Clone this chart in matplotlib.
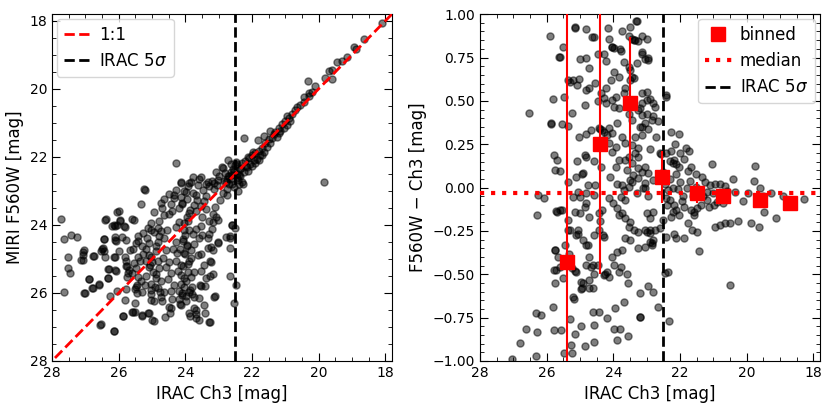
#!/usr/bin/env python3
"""
MIRI F560W vs IRAC Ch3 comparison: 1:1 plot and colour offset with binned medians.
"""
import numpy as np
import matplotlib
matplotlib.use('Agg')
import matplotlib.pyplot as plt
from matplotlib.ticker import MultipleLocator, AutoMinorLocator, StrMethodFormatter

# ---- left panel: (IRAC Ch3, MIRI F560W) pairs ----
left_faint = [
    (27.72, 23.83), (27.65, 24.42), (27.42, 24.29), (27.25, 24.36), (27.52, 24.93),
    (27.52, 25.27), (27.47, 25.41), (27.65, 25.97), (27.12, 25.02), (27.07, 24.80),
    (27.06, 24.88), (27.04, 26.00), (26.89, 25.59), (26.77, 24.91), (26.79, 25.85),
    (26.59, 25.78), (26.52, 24.78), (26.47, 24.68), (26.45, 24.42), (26.39, 23.82),
    (26.32, 25.30), (26.32, 25.56), (26.27, 26.08), (26.55, 26.93), (26.15, 27.13),
    (26.19, 24.03), (26.12, 24.03), (26.05, 23.62), (26.12, 24.34), (26.07, 24.46),
    (26.00, 24.78), (26.12, 24.93), (26.07, 25.34), (26.04, 25.95), (25.97, 23.87),
    (25.87, 26.68), (25.79, 24.44), (25.82, 24.05), (25.82, 26.20), (25.77, 25.20),
    (25.72, 25.41), (25.75, 25.54), (25.79, 25.88), (25.59, 23.83), (25.57, 26.56),
    (25.52, 26.29), (25.52, 26.56), (25.57, 24.70), (25.47, 24.52), (25.47, 25.27),
    (25.45, 25.78), (25.52, 25.88), (25.45, 26.00), (25.42, 24.95), (25.32, 23.39),
    (25.29, 26.66), (25.22, 22.96), (25.12, 26.58), (24.95, 26.83), (24.62, 26.70),
    (24.47, 26.58), (24.42, 26.44), (24.17, 26.31), (24.27, 22.18), (24.12, 22.76),
    (23.89, 22.76), (23.87, 26.68), (23.67, 26.73), (23.67, 26.49), (23.75, 26.44),
    (23.40, 26.58), (23.25, 26.86), (23.12, 26.08), (27.05, 24.75), (27.08, 25.02),
    (26.75, 24.90), (26.90, 25.58), (27.02, 26.01), (26.78, 25.85), (26.60, 25.75),
    (26.50, 24.71), (26.45, 24.77), (26.40, 23.85), (26.45, 24.41), (26.40, 24.94),
    (26.30, 25.29), (26.32, 25.55), (26.12, 25.31), (26.15, 24.94), (26.10, 24.43),
    (26.15, 23.99), (26.05, 23.99), (25.95, 23.85), (26.00, 23.60), (25.90, 24.34),
    (25.85, 24.04), (25.80, 24.94), (25.78, 25.07), (25.75, 25.21), (25.70, 25.31),
    (25.60, 25.41), (25.65, 24.73), (25.55, 23.85), (25.60, 26.56), (25.30, 26.68),
    (25.10, 26.58), (25.88, 26.68), (26.52, 26.92), (26.15, 27.11), (25.25, 22.95),
]
left_core = [
    (25.41, 24.33), (25.43, 24.47), (25.31, 24.62), (25.27, 24.86), (25.17, 24.71),
    (25.19, 25.07), (25.06, 25.18), (24.97, 25.37), (24.99, 25.08), (25.08, 24.88),
    (24.87, 24.78), (24.83, 24.49), (24.79, 24.31), (25.04, 24.15), (25.13, 24.08),
    (25.26, 24.23), (25.16, 24.39), (25.37, 25.05), (25.53, 25.11), (25.41, 25.52),
    (25.33, 25.66), (25.22, 25.77), (25.48, 25.81), (25.31, 25.97), (25.18, 25.51),
    (25.02, 25.74), (24.91, 25.82), (24.88, 25.57), (24.77, 25.97), (25.04, 26.03),
    (22.86, 22.31), (22.63, 22.22), (22.48, 22.14), (22.33, 22.31), (22.19, 22.26),
    (22.13, 22.41), (22.44, 22.51), (22.58, 22.35), (22.64, 22.66), (22.73, 22.55),
    (22.99, 22.57), (23.08, 22.45), (23.19, 22.71), (23.04, 22.81), (22.78, 22.74),
    (22.69, 22.80), (22.43, 22.69), (22.28, 22.79), (22.41, 23.01), (22.53, 22.89),
    (22.74, 22.94), (22.88, 23.06), (23.13, 22.95), (23.29, 22.84), (23.38, 22.79),
    (23.59, 22.66), (23.63, 22.81), (23.84, 22.73), (23.93, 22.86), (24.14, 22.74),
    (24.03, 23.01), (24.29, 22.98), (24.33, 23.12), (24.48, 23.08), (24.64, 23.25),
    (24.72, 23.34), (24.69, 23.51), (24.43, 23.39), (24.34, 23.22), (24.13, 23.19),
    (23.99, 23.03), (23.78, 23.06), (23.69, 23.11), (23.48, 22.98), (23.39, 23.15),
    (23.43, 23.29), (23.64, 23.27), (23.73, 23.41), (23.94, 23.23), (24.09, 23.39),
    (24.18, 23.51), (24.39, 23.58), (24.48, 23.69), (24.63, 23.72), (24.78, 23.89),
    (24.94, 23.61), (25.03, 23.93), (24.83, 24.08), (24.74, 24.18), (24.93, 24.21),
    (25.09, 24.52), (24.89, 24.62), (24.63, 24.37), (24.54, 24.16), (24.28, 24.07),
    (24.19, 23.91), (23.93, 23.88), (23.89, 23.66), (23.68, 23.58), (23.53, 23.43),
    (23.39, 23.52), (23.18, 23.68), (23.09, 23.77), (23.28, 23.89), (23.49, 23.76),
    (23.53, 24.03), (23.69, 24.11), (23.78, 24.28), (24.04, 24.16), (24.08, 24.41),
    (24.29, 24.49), (24.38, 24.71), (24.59, 24.74), (24.68, 24.96), (24.83, 25.06),
    (25.04, 24.93), (25.09, 25.24), (24.88, 25.44), (24.79, 25.27), (24.58, 25.24),
    (24.49, 25.08), (24.28, 25.06), (24.24, 24.83), (24.03, 24.81), (23.94, 24.59),
    (23.73, 24.57), (23.58, 24.39), (23.49, 24.29), (23.28, 24.27), (23.19, 24.11),
    (23.03, 24.49), (23.24, 24.66), (23.33, 24.69), (23.54, 24.86), (23.63, 24.88),
    (23.84, 24.98), (23.93, 25.15), (24.14, 25.17), (24.23, 25.34), (24.44, 25.41),
    (24.53, 25.59), (24.74, 25.66), (24.83, 25.84), (25.04, 25.91), (25.03, 26.22),
    (24.94, 26.24), (24.73, 26.13), (24.64, 25.96), (24.43, 25.93), (24.34, 25.76),
    (24.13, 25.74), (24.04, 25.57), (23.83, 25.53), (23.74, 25.37), (23.53, 25.34),
    (23.44, 25.17), (23.23, 25.09), (23.18, 25.44), (23.39, 25.57), (23.53, 25.79),
    (23.79, 25.81), (23.88, 25.97), (24.09, 26.01), (24.18, 26.17), (24.39, 26.19),
    (24.48, 26.41), (24.69, 26.25), (24.13, 26.36), (23.99, 26.25), (23.73, 26.12),
    (23.59, 26.16), (23.13, 26.12), (23.44, 26.35), (23.68, 26.63), (23.89, 26.59),
    (23.58, 26.79), (23.29, 26.84), (24.99, 26.79),
    (23.95, 24.62), (24.02, 24.85), (23.88, 25.05), (24.07, 25.22), (23.92, 25.38),
    (24.12, 25.48), (23.97, 25.66), (24.04, 25.82), (23.86, 25.92), (24.10, 26.05),
    (23.99, 26.08), (24.16, 24.70), (23.82, 24.75), (24.00, 24.30), (23.90, 24.15),
    (24.05, 23.95), (23.85, 23.55), (24.10, 23.35), (23.95, 23.78), (24.18, 25.95),
    (23.80, 26.02), (24.08, 24.48),
    (22.61, 23.99), (22.51, 24.09), (22.66, 24.33), (22.60, 24.00), (22.65, 24.39),
    (22.67, 24.68), (22.49, 25.76), (22.54, 26.29), (22.67, 25.51), (22.77, 24.36),
    (23.02, 23.85), (23.17, 23.90), (22.75, 23.12), (22.97, 23.27), (23.12, 23.46),
    (23.27, 25.07), (23.27, 25.51), (23.42, 25.80), (23.57, 25.76), (23.02, 24.54),
    (23.17, 24.73), (23.32, 24.39), (23.77, 22.60), (23.52, 22.60), (23.32, 22.73),
    (23.15, 22.76), (23.02, 22.68), (22.89, 22.29), (22.72, 22.10), (22.62, 22.44),
]
left_bright = [
    (22.45, 22.20), (22.35, 22.35), (22.30, 22.18), (22.20, 22.12), (22.15, 22.30),
    (22.10, 22.02), (22.05, 22.20), (22.00, 21.95), (21.95, 22.10), (21.90, 21.88),
    (21.85, 22.05), (21.80, 21.83), (21.75, 21.95), (21.70, 21.73), (21.65, 21.85),
    (21.60, 21.58), (21.55, 21.70), (21.50, 21.48), (21.45, 21.60), (21.40, 21.45),
    (21.35, 21.33), (21.30, 21.28), (21.25, 21.40), (21.20, 21.15), (21.15, 21.25),
    (21.10, 21.03), (21.05, 21.15), (21.00, 20.93), (20.95, 21.05), (20.90, 20.85),
    (20.85, 20.95), (20.80, 20.73), (20.70, 20.63), (20.65, 20.53), (20.55, 20.48),
    (20.45, 20.38), (20.30, 20.20), (20.20, 20.10), (20.45, 20.23), (20.30, 20.13),
    (20.33, 19.77), (20.10, 19.90), (19.80, 19.68), (19.70, 19.48), (19.60, 19.45),
    (19.60, 19.72), (19.45, 19.22), (19.30, 19.17), (19.15, 19.07), (18.95, 18.78),
    (18.88, 18.83), (18.65, 18.53), (18.10, 18.05), (19.83, 22.73), (22.23, 21.45),
    (21.82, 21.49), (21.64, 21.37), (22.55, 22.40), (22.60, 22.52), (22.70, 22.55),
    (22.75, 22.65), (22.80, 22.48), (22.85, 22.70), (22.40, 22.52), (22.45, 22.60),
    (22.50, 22.25), (22.35, 22.55), (22.25, 22.45), (22.60, 22.80), (22.40, 22.80),
    (22.30, 22.75), (22.00, 22.28), (21.90, 22.18), (21.80, 22.08), (21.70, 21.95),
    (21.98, 21.85), (22.12, 22.00), (21.45, 21.25), (21.20, 21.30), (20.95, 20.80),
]

# ---- right panel: (IRAC Ch3, F560W - Ch3) pairs ----
right_faint = [
    (26.53, 0.43), (25.89, 0.875), (25.60, 0.754), (25.52, 0.81), (25.81, 0.51),
    (25.48, 0.52), (25.87, 0.366), (25.55, 0.366), (25.35, 0.355), (25.77, 0.19),
    (25.60, 0.095), (25.37, 0.62), (25.30, 0.61), (25.20, 0.62), (25.10, 0.59),
    (25.04, 0.625), (25.15, 0.927), (24.81, 0.914), (25.00, 0.74), (24.82, 0.745),
    (24.73, 0.687), (24.64, 0.87), (24.57, 0.866), (24.81, 0.562), (24.74, 0.572),
    (24.86, 0.475), (25.03, 0.29), (24.83, 0.31), (24.66, 0.33), (25.23, 0.43),
    (25.08, 0.155), (25.13, 0.062), (24.93, 0.08), (24.86, 0.187), (24.83, 0.178),
    (24.57, 0.153), (24.54, 0.604), (24.90, 0.085), (25.16, 0.923), (25.63, 0.754),
    (25.86, 0.37), (26.26, -0.043), (26.08, -0.059), (26.29, -0.158), (25.73, -0.135),
    (25.53, -0.13), (25.16, -0.143), (25.37, -0.245), (25.76, -0.36), (25.73, -0.477),
    (25.76, -0.55), (25.50, -0.52), (25.14, -0.48), (25.19, -0.64), (24.96, -0.543),
    (24.94, -0.578), (24.72, -0.533), (24.62, -0.578), (24.67, -0.456), (24.62, -0.447),
    (25.82, -0.687), (26.33, -0.725), (26.16, -0.735), (26.61, -0.816), (26.29, -0.83),
    (26.80, -0.898), (25.79, -0.82), (25.57, -0.82), (25.30, -0.76), (25.16, -0.845),
    (24.96, -0.80), (24.86, -0.913), (25.27, -0.91), (25.47, -0.956), (25.23, -0.956),
    (26.31, -0.97), (27.04, -0.99), (24.62, -0.72), (24.57, -0.79), (24.57, -0.89),
    (25.06, -0.27), (24.76, -0.33), (24.57, -0.043), (24.54, 0.014), (24.81, -0.09),
    (24.72, -0.168), (24.86, -0.11), (25.01, -0.149), (25.06, -0.245), (25.11, -0.274),
    (25.30, -0.245), (25.35, -0.187), (25.45, -0.331), (25.65, -0.399), (25.75, -0.36),
    (25.77, -0.475), (25.60, -0.456), (25.11, -0.485), (25.25, -0.466), (25.32, -0.383),
    (25.35, 0.034), (25.21, -0.053), (25.06, -0.024), (25.01, -0.053), (24.76, 0.014),
    (24.81, -0.034), (25.75, 0.101), (25.70, 0.159), (25.60, -0.13), (25.70, -0.139),
    (24.91, -0.303), (24.81, -0.331), (24.91, -0.55), (24.96, -0.585), (24.72, -0.581),
    (25.21, -0.629), (24.81, -0.447), (24.72, -0.399), (24.57, -0.499), (24.57, -0.274),
]
right_mid = [
    (24.44, -0.716), (23.98, -0.817), (23.90, -0.879), (23.80, -0.817), (23.56, -0.854),
    (24.20, -0.75), (23.96, -0.696), (23.69, -0.658), (23.20, -0.748), (24.39, -0.19),
    (24.42, -0.149), (24.34, -0.13), (24.13, -0.062), (24.01, -0.09), (23.78, -0.053),
    (23.69, -0.014), (23.54, 0.005), (23.44, 0.034), (23.64, -0.072), (23.88, -0.12),
    (23.83, -0.158), (23.74, -0.149), (23.64, -0.178), (23.49, -0.197), (23.54, -0.226),
    (23.39, -0.245), (23.25, -0.255), (23.05, -0.245), (22.90, -0.245), (22.90, -0.264),
    (22.80, -0.303), (22.85, -0.322), (23.05, -0.341), (23.25, -0.351), (23.49, -0.303),
    (23.64, -0.293), (23.74, -0.36), (23.88, -0.37), (24.03, -0.399), (23.98, -0.447),
    (23.83, -0.485), (23.59, -0.499), (23.56, -0.552), (23.78, -0.456), (24.18, -0.485),
    (24.27, -0.504), (24.13, -0.514), (24.32, -0.274), (24.27, -0.283), (24.42, -0.245),
    (24.47, -0.447), (24.25, -0.50), (24.23, 0.485), (24.03, 0.504), (23.93, 0.524),
    (23.83, 0.456), (23.98, 0.466), (23.88, 0.37), (24.13, 0.341), (24.03, 0.312),
    (24.18, 0.303), (24.27, 0.322), (24.42, 0.341), (24.32, 0.274), (24.42, 0.235),
    (24.13, 0.255), (23.93, 0.235), (24.03, 0.207), (23.83, 0.158), (23.93, 0.12),
    (23.64, 0.158), (23.54, 0.178), (23.44, 0.139), (23.34, 0.197), (23.25, 0.178),
    (23.05, 0.12), (23.15, 0.091), (23.25, 0.11), (22.95, 0.082), (23.15, 0.303),
    (23.20, 0.351), (23.05, 0.37), (22.85, 0.389), (23.00, 0.427), (23.15, 0.418),
    (23.20, 0.456), (23.54, 0.427), (23.44, 0.389), (23.74, 0.293), (23.64, 0.255),
    (23.44, 0.245), (23.34, 0.293), (23.83, 0.639), (23.98, 0.668), (24.08, 0.62),
    (23.64, 0.572), (23.49, 0.62), (23.44, 0.639), (23.39, 0.629), (23.69, 0.543),
    (23.15, 0.543), (23.00, 0.504), (22.80, 0.485), (22.75, 0.466), (23.98, 0.802),
    (24.03, 0.812), (23.78, 0.789), (23.69, 0.725), (23.54, 0.696), (23.49, 0.677),
    (23.29, 0.716), (23.05, 0.744), (22.95, 0.735), (23.15, 0.773), (23.34, 0.85),
    (23.44, 0.854), (24.16, 0.92), (24.13, 0.856), (24.03, 0.81), (23.74, 0.904),
    (23.49, 0.927), (23.31, 0.958), (23.54, 0.875), (23.39, 0.85), (23.25, 0.846),
    (23.81, 0.798), (24.29, 0.773), (24.23, 0.731), (24.45, 0.773), (24.37, 0.543),
    (24.27, 0.514), (24.22, 0.572), (24.47, 0.50), (24.39, 0.335), (24.33, 0.331),
    (24.37, 0.12), (23.73, 0.014), (23.49, 0.043), (23.25, 0.053), (23.05, 0.024),
    (22.80, 0.043), (23.60, 0.10), (23.40, 0.07), (23.10, 0.00), (23.30, -0.03),
    (22.95, -0.05), (23.90, 0.02), (24.10, 0.06),
]
right_bright = [
    (22.51, 0.091), (22.22, 0.139), (22.17, 0.158), (22.41, 0.197), (22.61, 0.197),
    (23.00, 0.55), (23.15, 0.49), (22.90, 0.51), (22.41, 0.52), (22.43, 0.535),
    (23.25, 0.45), (22.66, 0.385), (22.80, 0.415), (23.15, 0.347), (22.95, 0.337),
    (22.26, 0.318), (22.02, 0.308), (22.71, 0.29), (23.25, 0.23), (22.90, 0.222),
    (22.56, 0.193), (21.82, 0.23), (21.72, 0.212), (21.87, 0.164), (22.26, 0.212),
    (22.31, 0.155), (22.12, 0.135), (22.02, 0.116), (21.77, 0.097), (21.68, 0.116),
    (21.04, 0.135), (22.12, 0.078), (21.53, 0.078), (21.33, 0.059), (21.24, 0.03),
    (21.09, 0.016), (20.94, 0.02), (20.79, 0.02), (20.65, 0.01), (20.40, 0.05),
    (19.76, 0.126), (19.78, 0.04), (23.15, 0.875), (23.00, 0.856), (23.15, 0.78),
    (22.95, 0.75), (23.29, 0.96), (23.05, -0.005), (22.36, -0.015), (22.07, -0.009),
    (21.53, 0.005), (21.19, -0.024), (20.35, -0.024), (19.96, -0.034), (19.27, -0.034),
    (18.29, -0.066), (22.41, -0.063), (22.31, -0.072), (22.17, -0.10), (22.12, -0.13),
    (22.22, -0.14), (22.26, -0.168), (22.02, -0.158), (21.87, -0.11), (21.68, -0.13),
    (21.58, -0.14), (21.48, -0.12), (21.58, -0.158), (21.38, -0.10), (21.19, -0.072),
    (21.14, -0.11), (20.99, -0.10), (20.89, -0.082), (20.70, -0.09), (20.65, -0.063),
    (20.94, -0.226), (20.79, -0.216), (20.65, -0.207), (20.50, -0.207), (20.26, -0.193),
    (19.86, -0.207), (19.62, -0.23), (19.47, -0.14), (19.13, -0.178), (18.78, -0.105),
    (21.77, -0.207), (21.63, -0.245), (21.48, -0.255), (21.43, -0.364), (21.87, -0.29),
    (22.12, -0.293), (22.17, -0.27), (22.41, -0.283), (22.46, -0.495), (22.36, -0.489),
    (20.50, -0.562), (22.95, -0.57), (22.80, -0.60), (23.20, -0.61), (22.66, -0.687),
    (23.20, -0.745), (22.34, -0.767), (23.00, -0.255), (22.90, -0.312), (22.85, -0.33),
    (22.75, -0.245), (22.61, -0.235), (22.90, -0.178), (23.00, -0.149), (22.80, -0.14),
    (22.51, -0.187), (22.45, 0.02), (22.30, 0.05), (22.20, 0.00), (22.00, 0.03),
    (21.90, -0.05), (21.80, 0.00), (22.40, -0.10), (21.95, -0.08), (21.60, -0.05),
    (21.40, -0.02), (21.30, -0.05), (21.00, -0.03), (20.80, -0.05), (20.60, -0.02),
    (20.10, -0.08), (19.60, 0.00), (19.50, -0.05), (18.90, -0.05), (19.60, -0.07),
    (21.70, 0.04), (22.15, 0.25), (22.00, 0.20),
]

# binned medians with error bars (lower / upper extent)
bin_x = [25.4, 24.4, 23.5, 22.55, 21.5, 20.7, 19.6, 18.7]
bin_y = [-0.43, 0.25, 0.49, 0.06, -0.03, -0.05, -0.07, -0.09]
bin_err_lo = [0.70, 0.75, 0.38, 0.15, 0.06, 0.02, 0.02, 0.02]
bin_err_hi = [1.60, 0.90, 0.38, 0.15, 0.06, 0.02, 0.02, 0.02]

median_offset = -0.03
irac_5sigma = 22.5
mag_lim = (28, 17.8)


def style_axes(ax):
    ax.tick_params(which='both', direction='in', top=True, right=True, labelsize=10)
    ax.tick_params(which='major', length=6)
    ax.tick_params(which='minor', length=3)
    ax.xaxis.set_minor_locator(AutoMinorLocator())
    ax.yaxis.set_minor_locator(AutoMinorLocator())


def main():
    lx, ly = np.array(left_faint + left_core + left_bright).T
    rx, ry = np.array(right_faint + right_mid + right_bright).T

    fig = plt.figure(figsize=(8.31, 4.09), dpi=100)
    ax1 = fig.add_axes([0.0626, 0.1174, 0.409, 0.848])
    ax2 = fig.add_axes([0.5776, 0.1174, 0.409, 0.848])

    # left: 1:1 comparison
    ax1.scatter(lx, ly, s=26, c='k', alpha=0.5, zorder=2)
    ax1.axline((mag_lim[0], mag_lim[0]), slope=1, color='red', ls='--', lw=2, label='1:1', zorder=3)
    ax1.axvline(irac_5sigma, color='k', ls='--', lw=2, label=r'IRAC 5$\sigma$', zorder=3)
    ax1.set_xlim(*mag_lim)
    ax1.set_ylim(*mag_lim)
    ax1.xaxis.set_major_locator(MultipleLocator(2))
    ax1.yaxis.set_major_locator(MultipleLocator(2))
    ax1.set_xlabel('IRAC Ch3 [mag]', fontsize=12)
    ax1.set_ylabel('MIRI F560W [mag]', fontsize=12)
    style_axes(ax1)
    ax1.legend(loc='upper left', fontsize=12, handlelength=1.6,
               borderaxespad=0.3, handletextpad=0.5)

    # right: colour offset
    ax2.scatter(rx, ry, s=26, c='k', alpha=0.5, zorder=2)
    ax2.errorbar(bin_x, bin_y, yerr=[bin_err_lo, bin_err_hi], fmt='none',
                 ecolor='red', elinewidth=1.5, capsize=0, zorder=4)
    ax2.plot(bin_x, bin_y, 's', color='red', ms=9.5, label='binned', zorder=5)
    ax2.axhline(median_offset, color='red', ls=':', lw=3, label='median', zorder=3)
    ax2.axvline(irac_5sigma, color='k', ls='--', lw=2, label=r'IRAC 5$\sigma$', zorder=3)
    ax2.set_xlim(*mag_lim)
    ax2.set_ylim(-1, 1)
    ax2.xaxis.set_major_locator(MultipleLocator(2))
    ax2.yaxis.set_major_locator(MultipleLocator(0.25))
    ax2.yaxis.set_major_formatter(StrMethodFormatter('{x:.2f}'))
    ax2.set_xlabel('IRAC Ch3 [mag]', fontsize=12)
    ax2.set_ylabel('F560W \u2212 Ch3 [mag]', fontsize=12)
    style_axes(ax2)
    ax2.legend(loc='upper right', fontsize=12, handlelength=1.6,
               borderaxespad=0.3, handletextpad=0.5)

    fig.savefig('out.png', dpi=100)
    plt.close(fig)


if __name__ == "__main__":
    main()
